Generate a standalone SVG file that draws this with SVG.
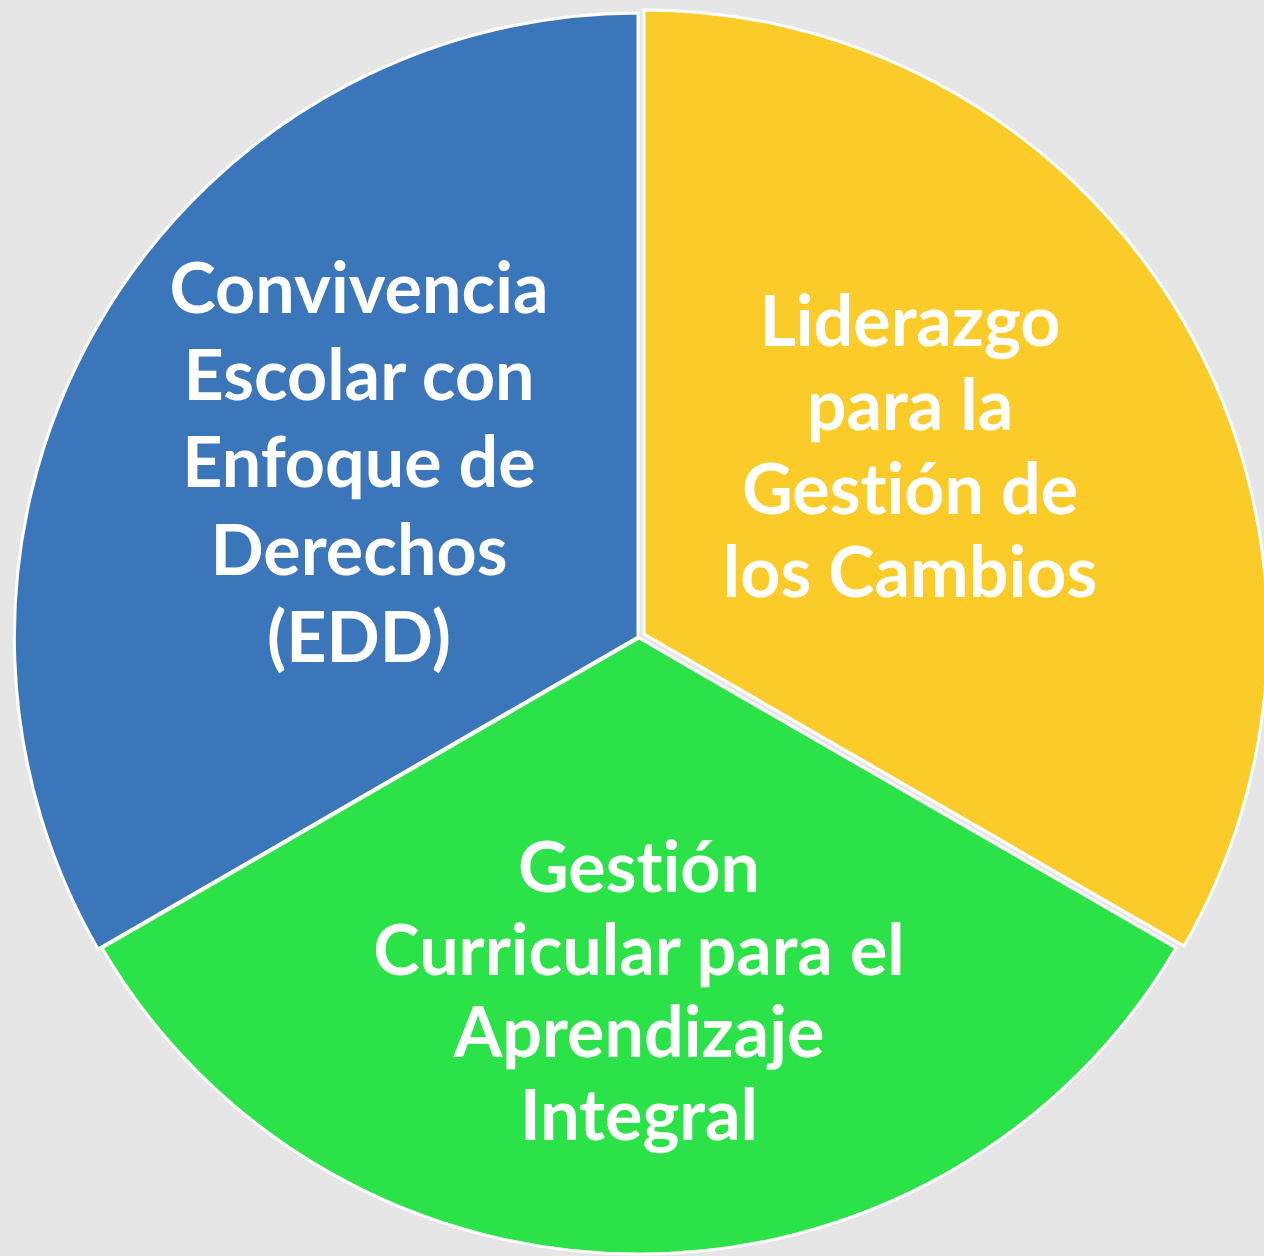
<svg xmlns="http://www.w3.org/2000/svg" width="1264" height="1256" viewBox="0 0 1264 1256">
<style>
.seg{stroke:#ffffff;stroke-width:3;stroke-linejoin:miter}
.lbl{font-family:Lato,"Open Sans","Liberation Sans",sans-serif;font-weight:700;font-size:70px;fill:#ffffff;text-anchor:middle;font-variant-ligatures:none;font-feature-settings:"liga" 0,"dlig" 0}
</style>
<rect width="1264" height="1256" fill="#e6e6e6"/>
<g id="connectors"></g>
<g id="node-blue">
<path class="seg" fill="#3b75ba" d="M638,637 L638,13 A624,624 0 0 0 98,949 Z"/>
<text class="lbl" x="359" y="313">Convivencia</text>
<text class="lbl" x="359" y="400">Escolar con</text>
<text class="lbl" x="359" y="487">Enfoque de</text>
<text class="lbl" x="359" y="575">Derechos</text>
<text class="lbl" x="359" y="662">(EDD)</text>
</g>
<g id="node-yellow">
<path class="seg" fill="#fbcb29" stroke-width="4" d="M644,634 L644,10 A624,624 0 0 1 1184,946 Z"/>
<text class="lbl" x="910" y="346">Liderazgo</text>
<text class="lbl" x="910" y="430">para la</text>
<text class="lbl" x="910" y="514">Gestión de</text>
<text class="lbl" x="910" y="597">los Cambios</text>
</g>
<g id="node-green">
<path class="seg" fill="#2be348" d="M639,638 L1176,948 A620,612 0 0 1 102,948 Z"/>
<text class="lbl" x="639" y="892">Gestión</text>
<text class="lbl" x="639" y="975">Curricular para el</text>
<text class="lbl" x="639" y="1057">Aprendizaje</text>
<text class="lbl" x="639" y="1140">Integral</text>
</g>
</svg>
